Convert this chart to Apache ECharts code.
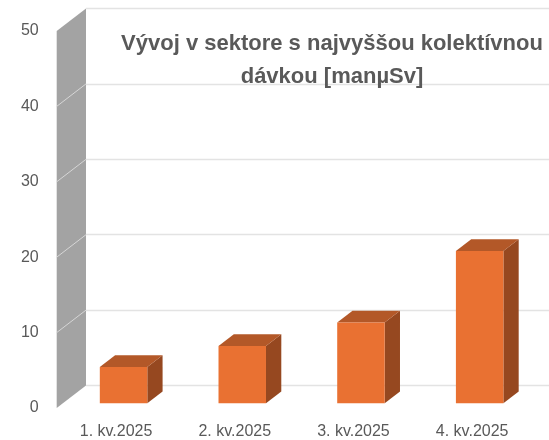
<!DOCTYPE html>
<html>
<head>
<meta charset="utf-8">
<script src="https://cdn.jsdelivr.net/npm/echarts@6/dist/echarts.min.js"></script>
<style>
  html, body { margin: 0; padding: 0; background: #fff; }
  #chart { width: 549px; height: 440px; }
</style>
</head>
<body>
<div id="chart"></div>
<script>
var categories = ['1. kv.2025', '2. kv.2025', '3. kv.2025', '4. kv.2025'];
var values = [4.8, 7.6, 10.7, 20.2];
var yTicks = [0, 10, 20, 30, 40, 50];
var titleText = 'Vývoj v sektore s najvyššou kolektívnou\ndávkou [manµSv]';

// depth of the "3d" box (floor) and of each bar
var DX = 29.3, DY = -22.5;
var FX = 7.5, FY = -4.8;      // bar front sits a bit into the floor
var BX = 15.3, BY = -11.7;    // bar depth
var FRONT = { left: 56.7, top: 31, right: 17.5, bottom: 32 };

function run() {
    var chart = echarts.init(document.getElementById('chart'));
    var labelColor = '#595959';

    var option = {
        animation: false,
        backgroundColor: '#ffffff',
        title: {
            text: titleText,
            left: 332,
            top: 27,
            textAlign: 'center',
            padding: 0,
            textStyle: {
                fontFamily: 'Liberation Sans',
                fontWeight: 'bold',
                fontSize: 22,
                lineHeight: 33,
                color: labelColor
            }
        },
        grid: [
            { left: FRONT.left, top: FRONT.top, right: FRONT.right, bottom: FRONT.bottom },
            { left: FRONT.left + DX, top: FRONT.top + DY, right: 0, bottom: FRONT.bottom - DY }
        ],
        xAxis: [
            {
                type: 'category', gridIndex: 0, data: categories,
                axisLine: { show: false }, axisTick: { show: false },
                axisLabel: { margin: 16, fontFamily: 'Liberation Sans', fontSize: 16, color: labelColor }
            },
            {
                type: 'category', gridIndex: 1, data: categories, show: false
            }
        ],
        yAxis: [
            {
                type: 'value', gridIndex: 0, min: 0, max: 50, interval: 10,
                axisLine: { show: false }, axisTick: { show: false },
                splitLine: { show: false },
                axisLabel: { margin: 18, fontFamily: 'Liberation Sans', fontSize: 16, color: labelColor }
            },
            {
                type: 'value', gridIndex: 1, min: 0, max: 50, interval: 10,
                axisLine: { show: false }, axisTick: { show: false },
                axisLabel: { show: false },
                splitLine: { lineStyle: { color: '#e3e3e3', width: 1.3 } }
            }
        ],
        series: [
            {
                // left side wall
                type: 'custom',
                xAxisIndex: 0, yAxisIndex: 0,
                data: [[0, 50]],
                z: 1,
                renderItem: function (params, api) {
                    var x = params.coordSys.x;
                    var y0 = api.coord([0, 0])[1];
                    var y1 = api.coord([0, 50])[1];
                    var children = [{
                        type: 'polygon',
                        shape: { points: [[x, y0], [x, y1], [x + DX, y1 + DY], [x + DX, y0 + DY]] },
                        style: { fill: '#a3a3a3' }
                    }];
                    yTicks.forEach(function (t) {
                        if (t === 0 || t === 50) return;
                        var y = api.coord([0, t])[1];
                        children.push({
                            type: 'line',
                            shape: { x1: x, y1: y, x2: x + DX, y2: y + DY },
                            style: { stroke: '#d6d6d6', lineWidth: 1 }
                        });
                    });
                    return { type: 'group', children: children };
                }
            },
            {
                type: 'custom',
                xAxisIndex: 0, yAxisIndex: 0,
                data: values.map(function (v, i) { return [i, v]; }),
                z: 3,
                renderItem: function (params, api) {
                    var i = api.value(0), v = api.value(1);
                    var base = api.coord([i, 0]);
                    var top = api.coord([i, v]);
                    var w = api.size([1, 0])[0] * 0.4;
                    var xl = base[0] + FX - w / 2, xr = xl + w;
                    var yb = base[1] + FY, yt = top[1] + FY;
                    return {
                        type: 'group',
                        children: [
                            {
                                type: 'polygon',
                                shape: { points: [[xr, yt], [xr, yb], [xr + BX, yb + BY], [xr + BX, yt + BY]] },
                                style: { fill: '#964820' }
                            },
                            {
                                type: 'polygon',
                                shape: { points: [[xl, yt], [xr, yt], [xr + BX, yt + BY], [xl + BX, yt + BY]] },
                                style: { fill: '#b35828' }
                            },
                            {
                                type: 'rect',
                                shape: { x: xl, y: yt, width: w, height: yb - yt },
                                style: { fill: '#e97132' }
                            }
                        ]
                    };
                }
            }
        ]
    };

    chart.setOption(option);
}

if (document.readyState !== 'loading') {
    run();
} else {
    document.addEventListener('DOMContentLoaded', run);
}
</script>
</body>
</html>
